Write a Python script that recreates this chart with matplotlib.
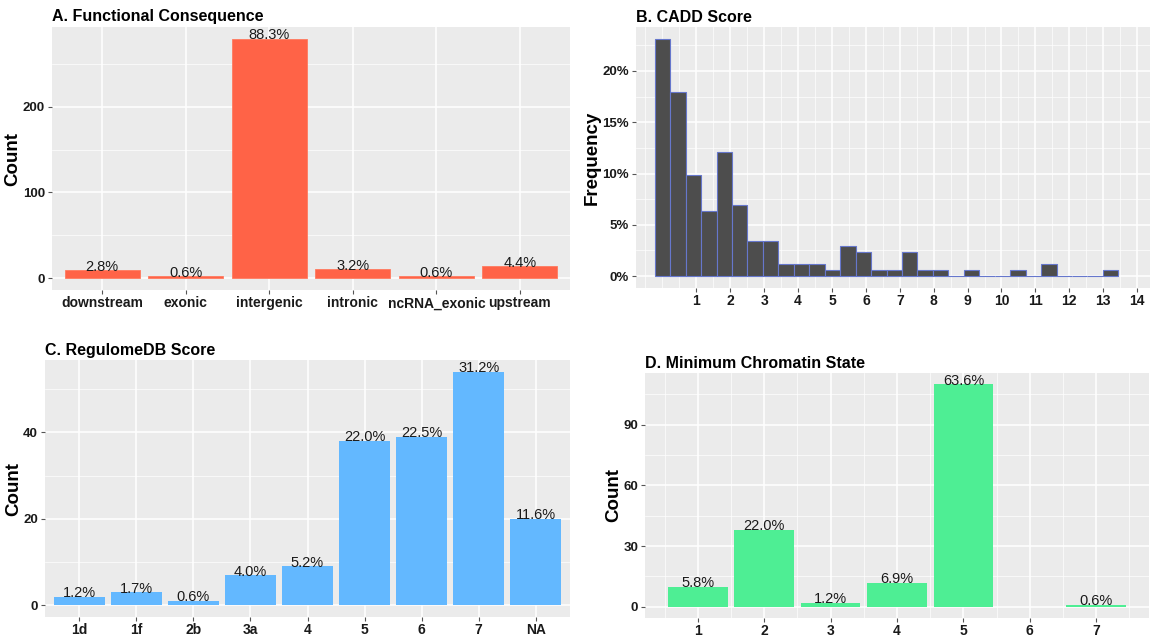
import numpy as np
import matplotlib
matplotlib.use("Agg")
import matplotlib.pyplot as plt
from matplotlib.ticker import PercentFormatter, MultipleLocator

plt.rcParams['font.family'] = ['Liberation Sans', 'DejaVu Sans']

# A. functional consequence counts
func_cats = ['downstream', 'exonic', 'intergenic', 'intronic', 'ncRNA_exonic', 'upstream']
func_counts = [9, 2, 279, 10, 2, 14]

# B. CADD score histogram (30 bins, counts per bin)
cadd_min, cadd_max = 0.0, 13.22
cadd_counts = [40, 31, 17, 11, 21, 12, 6, 6, 2, 2, 2, 1, 5, 4, 1,
               1, 4, 1, 1, 0, 1, 0, 0, 1, 0, 2, 0, 0, 0, 1]
cadd_total = 173

# C. RegulomeDB score counts
reg_cats = ['1d', '1f', '2b', '3a', '4', '5', '6', '7', 'NA']
reg_counts = [2, 3, 1, 7, 9, 38, 39, 54, 20]

# D. minimum chromatin state counts (state 6 is empty)
chrom_states = [1, 2, 3, 4, 5, 6, 7]
chrom_counts = [10, 38, 2, 12, 110, 0, 1]

BG = '#EBEBEB'
TXT = '#1a1a1a'
W, H = 1158, 637

fig = plt.figure(figsize=(W / 100, H / 100), dpi=100)


def make_ax(left, top, right, bottom, title):
    ax = fig.add_axes([left / W, 1 - bottom / H, (right - left) / W, (bottom - top) / H])
    ax.set_facecolor(BG)
    for s in ax.spines.values():
        s.set_visible(False)
    ax.set_axisbelow(True)
    ax.grid(which='major', color='white', lw=1.1)
    ax.grid(which='minor', color='white', lw=0.5)
    ax.tick_params(which='major', length=3, color='#555555', labelcolor=TXT, pad=2)
    ax.tick_params(axis='x', pad=1.5)
    ax.tick_params(which='minor', length=0)
    # title sits flush with the panel's left edge
    fig.text(left / W, 1 - (top - 10) / H, title, fontsize=11.5,
             fontweight='bold', va='center', ha='left')
    return ax


def style_ticks(ax, xsize=10, ysize=9.5):
    for lab in ax.get_xticklabels():
        lab.set_fontweight('bold')
        lab.set_fontsize(xsize)
    for lab in ax.get_yticklabels():
        lab.set_fontweight('bold')
        lab.set_fontsize(ysize)


def pct_labels(ax, xs, counts, total, size=10.5):
    for x, c in zip(xs, counts):
        if c == 0:
            continue
        ax.annotate(f"{100 * c / total:.1f}%", (x, c), xytext=(0, -2.5),
                    textcoords='offset points', ha='center', va='bottom',
                    fontsize=size, color=TXT)


# ---- A
axA = make_ax(52, 27, 570, 290, 'A. Functional Consequence')
xa = np.arange(1, len(func_cats) + 1)
axA.bar(xa, func_counts, width=0.9, color='#FF6347', edgecolor='#FF7a5f', lw=0.6)
pct_labels(axA, xa, func_counts, sum(func_counts))
axA.set_xticks(xa, func_cats)
axA.set_xlim(0.4, len(func_cats) + 0.6)
axA.set_ylim(-0.05 * max(func_counts), 1.05 * max(func_counts))
axA.yaxis.set_major_locator(MultipleLocator(100))
axA.yaxis.set_minor_locator(MultipleLocator(50))
axA.set_ylabel('Count', fontsize=13.5, fontweight='bold', labelpad=1)
style_ticks(axA)

# ---- B
axB = make_ax(636, 27, 1150, 288, 'B. CADD Score')
bw = (cadd_max - cadd_min) / (len(cadd_counts) - 1)
edges = cadd_min - bw / 2 + bw * np.arange(len(cadd_counts) + 1)
freq = 100 * np.array(cadd_counts) / cadd_total
axB.bar(edges[:-1], freq, width=bw, align='edge', color='#4D4D4D',
        edgecolor='#6677cc', lw=0.8)
axB.set_xticks(np.arange(1, 15))
axB.xaxis.set_minor_locator(MultipleLocator(0.5))
axB.set_xlim(-0.78, 14.38)
axB.set_ylim(-0.05 * freq.max(), 1.05 * freq.max())
axB.yaxis.set_major_locator(MultipleLocator(5))
axB.yaxis.set_minor_locator(MultipleLocator(2.5))
axB.yaxis.set_major_formatter(PercentFormatter(decimals=0))
axB.set_ylabel('Frequency', fontsize=13.5, fontweight='bold', labelpad=1)
style_ticks(axB)

# ---- C
axC = make_ax(45, 360, 570, 617, 'C. RegulomeDB Score')
xc = np.arange(1, len(reg_cats) + 1)
axC.bar(xc, reg_counts, width=0.9, color='#63B8FF')
pct_labels(axC, xc, reg_counts, sum(reg_counts))
axC.set_xticks(xc, reg_cats)
axC.set_xlim(0.4, len(reg_cats) + 0.6)
axC.set_ylim(-0.05 * max(reg_counts), 1.05 * max(reg_counts))
axC.yaxis.set_major_locator(MultipleLocator(20))
axC.yaxis.set_minor_locator(MultipleLocator(10))
axC.set_ylabel('Count', fontsize=13.5, fontweight='bold', labelpad=1)
style_ticks(axC)

# ---- D
axD = make_ax(645, 373, 1149, 618, 'D. Minimum Chromatin State')
axD.bar(chrom_states, chrom_counts, width=0.9, color='#4EEE94')
pct_labels(axD, chrom_states, chrom_counts, sum(chrom_counts))
axD.set_xticks(chrom_states)
axD.xaxis.set_minor_locator(MultipleLocator(0.5))
axD.set_xlim(0.205, 7.795)
axD.set_ylim(-0.05 * max(chrom_counts), 1.05 * max(chrom_counts))
axD.yaxis.set_major_locator(MultipleLocator(30))
axD.yaxis.set_minor_locator(MultipleLocator(15))
axD.set_ylabel('Count', fontsize=13.5, fontweight='bold', labelpad=1)
style_ticks(axD)

fig.savefig('out.png', dpi=100, facecolor='white')
